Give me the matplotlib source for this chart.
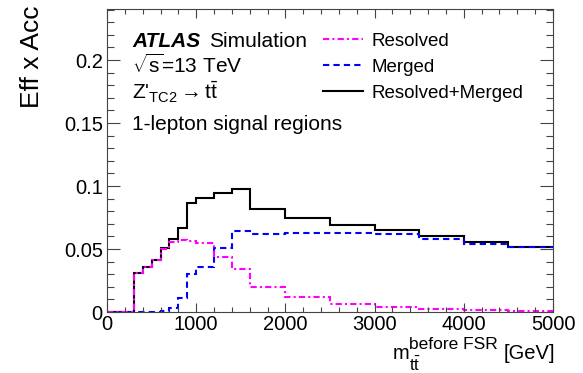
import matplotlib
matplotlib.use("Agg")
import matplotlib.pyplot as plt
from matplotlib.ticker import MultipleLocator, FuncFormatter

# Fonts (Helvetica-like, ROOT/ATLAS look)
plt.rcParams["font.family"] = ["Liberation Sans", "DejaVu Sans"]
plt.rcParams["mathtext.fontset"] = "custom"
plt.rcParams["mathtext.rm"] = "Liberation Sans"
plt.rcParams["mathtext.it"] = "Liberation Sans:italic"
plt.rcParams["mathtext.bf"] = "Liberation Sans:bold"

# Bin edges in m_tt (GeV)
edges = [0, 100, 200, 300, 400, 500, 600, 700, 800, 900, 1000,
         1200, 1400, 1600, 2000, 2500, 3000, 3500, 4000, 4500, 5000]

# Eff x Acc per bin
resolved = [0, 0, 0, 0.031, 0.036, 0.041, 0.050, 0.0553, 0.0571, 0.0566,
            0.055, 0.0439, 0.0339, 0.0201, 0.0122, 0.0063, 0.0042, 0.0026,
            0.0013, 0.0005]
merged = [0, 0, 0, 0.0003, 0.0003, 0.0003, 0.001, 0.003, 0.0108, 0.0299,
          0.036, 0.0505, 0.0646, 0.0619, 0.0628, 0.063, 0.0616, 0.058,
          0.054, 0.0513]
combined = [0, 0, 0, 0.031, 0.036, 0.041, 0.051, 0.058, 0.067, 0.0868,
            0.0907, 0.0947, 0.0979, 0.0815, 0.0749, 0.069, 0.065, 0.0603,
            0.0556, 0.0519]

W, H = 583, 373
fig = plt.figure(figsize=(W / 100, H / 100), dpi=100)
ax = fig.add_axes([107 / W, 61 / H, 446 / W, 303 / H])

h_comb = ax.stairs(combined, edges, baseline=None, color="black", lw=1.5)
h_merg = ax.stairs(merged, edges, baseline=None, color="#0000ff", lw=1.5,
                   linestyle=(0, (3, 2)))
h_res = ax.stairs(resolved, edges, baseline=None, color="#ff00ff", lw=1.5,
                  linestyle=(0, (3, 1.5, 1, 1.5)))

ax.set_xlim(0, 5000)
ax.set_ylim(0, 0.2405)

ax.xaxis.set_major_locator(MultipleLocator(1000))
ax.xaxis.set_minor_locator(MultipleLocator(200))
ax.yaxis.set_major_locator(MultipleLocator(0.05))
ax.yaxis.set_minor_locator(MultipleLocator(0.01))
ax.xaxis.set_major_formatter(FuncFormatter(lambda v, p: "%d" % v))
ax.yaxis.set_major_formatter(FuncFormatter(lambda v, p: "0" if abs(v) < 1e-9 else "%g" % round(v, 3)))

ax.tick_params(which="both", direction="in", top=True, right=True,
               labelsize=14.5, width=0.8, colors="#444444", labelcolor="black")
ax.tick_params(axis="y", which="major", length=9.5, pad=3)
ax.tick_params(axis="y", which="minor", length=5)
ax.tick_params(axis="x", which="major", length=6.5, pad=2)
ax.tick_params(axis="x", which="minor", length=3.5)
for s in ax.spines.values():
    s.set_color("#444444")
    s.set_linewidth(0.8)

# Axis titles (ROOT style, aligned to the ends)
fig.text(32 / W, 1 - 5 / H, "Eff x Acc", rotation=90, ha="center", va="top",
         fontsize=19)
fig.text(393 / W, 1 - 359 / H, "m", fontsize=14.5, va="baseline")
fig.text(409 / W, 1 - 349 / H, "before FSR", fontsize=12.5, va="baseline")
fig.text(409 / W, 1 - 371 / H, r"$\mathrm{t\bar{t}}$", fontsize=12,
         va="baseline")
fig.text(555 / W, 1 - 359 / H, "[GeV]", fontsize=14.5, ha="right",
         va="baseline")

# ATLAS label block
fs = 15
fig.text(132 / W, 1 - 46.7 / H, "ATLAS", fontsize=fs, weight="bold",
         style="italic", va="baseline")
fig.text(209 / W, 1 - 46.7 / H, "Simulation", fontsize=fs, va="baseline")
fig.text(132 / W, 1 - 73 / H, r"$\sqrt{\mathrm{s}}$=13 TeV", fontsize=fs,
         va="baseline")
fig.text(132 / W, 1 - 100 / H, r"Z'$_{\mathrm{TC2}}\rightarrow\mathrm{t\bar{t}}$",
         fontsize=fs, va="baseline")
fig.text(132 / W, 1 - 130 / H, "1-lepton signal regions", fontsize=fs,
         va="baseline")

lfs = 13.5
ax.legend([h_res, h_merg, h_comb], ["Resolved", "Merged", "Resolved+Merged"],
          loc="upper left", bbox_to_anchor=(323 / W, 1 - 32.5 / H),
          bbox_transform=fig.transFigure, frameon=False, fontsize=lfs,
          handlelength=2.13, handletextpad=0.48, labelspacing=0.47,
          borderpad=0, borderaxespad=0)

fig.savefig("out.png", dpi=100)
